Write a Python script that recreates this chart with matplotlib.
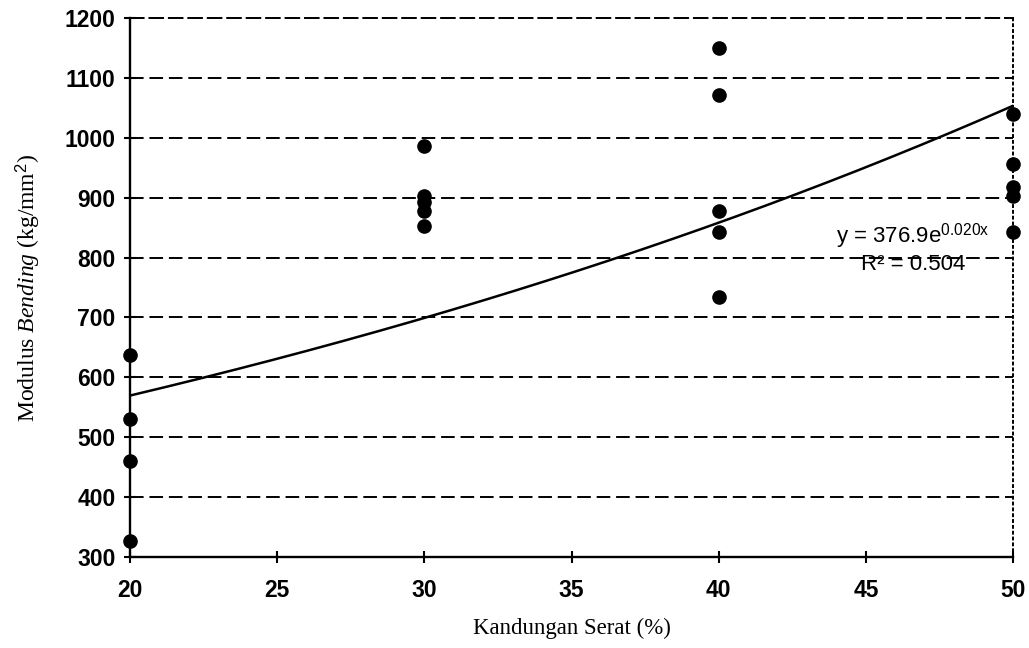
import numpy as np
import matplotlib
matplotlib.use("Agg")
import matplotlib.pyplot as plt

# data
serat_20 = [638, 530, 460, 327]
serat_30 = [987, 903, 893, 878, 852]
serat_40 = [1150, 1072, 877, 842, 735]
serat_50 = [1040, 957, 918, 902, 843]
kandungan = [20, 30, 40, 50]
modulus = [serat_20, serat_30, serat_40, serat_50]

# exponential trend line as drawn in the picture
trend_a = 378.0
trend_b = 0.0205
eq_text = "y = 376.9e$^{\\mathrm{0.020x}}$"
r2_text = "R² = 0.504"

xticks = [20, 25, 30, 35, 40, 45, 50]
yticks = [300, 400, 500, 600, 700, 800, 900, 1000, 1100, 1200]

plt.rcParams['mathtext.fontset'] = 'custom'
plt.rcParams['mathtext.rm'] = 'Liberation Sans'
plt.rcParams['mathtext.it'] = 'Liberation Serif:italic'

fig = plt.figure(figsize=(10.29, 6.48), dpi=100)
ax = fig.add_axes([0.1263, 0.1404, 0.8582, 0.8318])

for x, vals in zip(kandungan, modulus):
    ax.plot([x] * len(vals), vals, 'o', color='black', markersize=9.5,
            clip_on=False, zorder=5)

xs = np.linspace(20, 50, 200)
ax.plot(xs, trend_a * np.exp(trend_b * xs), color='black', linewidth=1.8, zorder=4)

ax.set_xlim(20, 50)
ax.set_ylim(300, 1200)
ax.set_xticks(xticks)
ax.set_yticks(yticks)
ax.grid(axis='y', color='black', linestyle=(0, (7, 3)), linewidth=1.4)
ax.set_axisbelow(True)

for s in ['left', 'bottom']:
    ax.spines[s].set_linewidth(1.7)
ax.spines['top'].set_linestyle((0, (7, 3)))
ax.spines['top'].set_linewidth(1.4)
ax.spines['right'].set_linestyle((0, (1, 2)))
ax.spines['right'].set_linewidth(1.4)

ax.tick_params(axis='both', direction='inout', length=9, width=1.5,
               labelsize=16.5)
ax.tick_params(axis='x', pad=11)
ax.tick_params(axis='y', pad=6)
for lab in ax.get_xticklabels() + ax.get_yticklabels():
    lab.set_fontfamily('Liberation Sans')
    lab.set_fontweight('bold')

ax.text(46.6, 835, eq_text, ha='center', va='center', fontsize=16,
        family='Liberation Sans')
ax.text(46.6, 788, r2_text, ha='center', va='center', fontsize=16,
        family='Liberation Sans')

ax.set_xlabel("Kandungan Serat (%)", family='Liberation Serif', fontsize=16.5,
              labelpad=12)
ax.set_ylabel("Modulus $\\it{Bending}$ (kg/mm$^2$)", family='Liberation Serif',
              fontsize=17, labelpad=16)

fig.savefig("out.png", dpi=100)
